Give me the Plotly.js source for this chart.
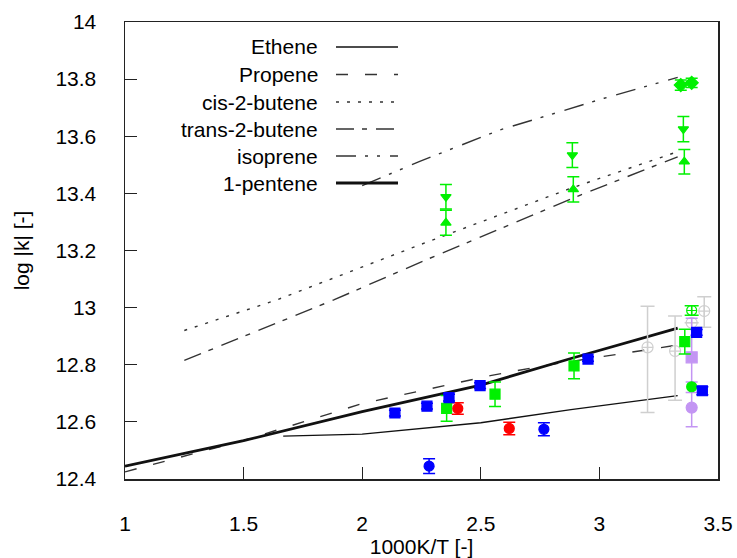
<!DOCTYPE html>
<html>
<head>
<meta charset="utf-8">
<script src="https://cdn.plot.ly/plotly-3.0.1.min.js"></script>
<style>html,body{margin:0;padding:0;background:#fff;}#chart{width:737px;height:558px;}</style>
</head>
<body>
<div id="chart"></div>
<script>
// ---- model curves ----
const etheneX = [1.667, 2.0, 2.5, 2.88, 3.33];
const etheneY = [12.550, 12.557, 12.597, 12.643, 12.692];
const propeneX = [1.0, 1.5, 2.0, 2.54, 2.79, 3.33];
const propeneY = [12.425, 12.535, 12.664, 12.762, 12.800, 12.869];
const cisX = [1.25, 1.64, 2.24, 2.88, 3.33];
const cisY = [12.920, 13.027, 13.219, 13.418, 13.546];
const transX = [1.25, 1.88, 2.26, 2.92, 3.33];
const transY = [12.815, 13.027, 13.164, 13.394, 13.528];
const isopreneX = [2.0, 2.24, 2.58, 3.02, 3.33];
const isopreneY = [13.427, 13.511, 13.622, 13.733, 13.806];
const penteneX = [1.0, 1.5, 2.0, 2.5, 2.88, 3.33];
const penteneY = [12.445, 12.534, 12.636, 12.729, 12.822, 12.928];

// ---- experimental points ----
const blueSqX = [2.138, 2.273, 2.366, 2.497, 2.952, 3.41, 3.434];
const blueSqY = [12.631, 12.655, 12.685, 12.727, 12.820, 12.913, 12.709];
const blueSqErr = [0.010, 0.010, 0.012, 0.010, 0.008, 0.010, 0.014];
const blueCircX = [2.282, 2.766];
const blueCircY = [12.445, 12.574];
const blueCircErr = [0.026, 0.023];
const redCircX = [2.403, 2.62];
const redCircY = [12.647, 12.577];
const redCircErr = [0.020, 0.022];
const greenSqX = [2.356, 2.56, 2.893, 3.36];
const greenSqY = [12.647, 12.697, 12.796, 12.881];
const greenSqErr = [0.045, 0.043, 0.045, 0.043];
const greenCircX = [3.389];
const greenCircY = [12.723];
const greenCrossX = [3.389];
const greenCrossY = [12.990];
const greenCrossErr = [0.017];
const greenDownX = [2.353, 2.886, 3.354];
const greenDownY = [13.388, 13.534, 13.625];
const greenDownErr = [0.043, 0.043, 0.044];
const greenUpX = [2.353, 2.89, 3.358];
const greenUpY = [13.297, 13.414, 13.511];
const greenUpErr = [0.044, 0.044, 0.043];
const greenDiaX = [3.343, 3.389];
const greenDiaY = [13.779, 13.787];
const greenDiaErr = [0.018, 0.016];
const grayX = [3.203, 3.319, 3.389, 3.442];
const grayY = [12.861, 12.848, 12.947, 12.988];
const grayErrUp = [0.144, 0.123, 0.0, 0.050];
const grayErrDown = [0.228, 0.172, 0.0, 0.057];
const lavX = [3.389, 3.389];
const lavY = [12.826, 12.650];
const lavErrUp = [0.137, 0.090];
const lavErrDown = [0.123, 0.067];

// ---- ticks / labels ----
const xTicks = [1, 1.5, 2, 2.5, 3, 3.5];
const xTickText = ['1', '1.5', '2', '2.5', '3', '3.5'];
const yTicks = [12.4, 12.6, 12.8, 13, 13.2, 13.4, 13.6, 13.8, 14];
const yTickText = ['12.4', '12.6', '12.8', '13', '13.2', '13.4', '13.6', '13.8', '14'];
const legendNames = ['Ethene', 'Propene', 'cis-2-butene', 'trans-2-butene', 'isoprene', '1-pentene'];

const FONT = 'Liberation Sans, Arial, sans-serif';
const FS = 21;
const styles = [
  {color: '#111', width: 1.4, dash: 'solid'},
  {color: '#333', width: 1.4, dash: '12px,17px'},
  {color: '#333', width: 1.4, dash: '3px,8px'},
  {color: '#333', width: 1.4, dash: '18px,8px,5px,9px'},
  {color: '#333', width: 1.4, dash: '20px,9px,3px,9px,3px,10px'},
  {color: '#111', width: 2.8, dash: 'solid'}
];
const curves = [[etheneX, etheneY], [propeneX, propeneY], [cisX, cisY], [transX, transY], [isopreneX, isopreneY], [penteneX, penteneY]];

const traces = [];
curves.forEach((c, i) => {
  traces.push({x: c[0], y: c[1], mode: 'lines', name: legendNames[i], line: styles[i], showlegend: false, hoverinfo: 'skip'});
});

function pts(x, y, err, color, symbol, size, w, errMinus) {
  const t = {x: x, y: y, mode: 'markers', showlegend: false,
    marker: {color: color, symbol: symbol, size: size, line: {color: color, width: 1.2}}};
  if (err) {
    t.error_y = {type: 'data', array: err, visible: true, color: color, thickness: 1.5, width: w || 6};
    if (errMinus) { t.error_y.symmetric = false; t.error_y.arrayminus = errMinus; }
  }
  return t;
}
const GREEN = '#00f000';
traces.push(pts(grayX, grayY, grayErrUp, '#cfcfcf', 'circle-cross-open', 11, 7, grayErrDown));
traces.push(pts(lavX, lavY, lavErrUp, '#c395f3', ['square', 'circle'], 11, 6, lavErrDown));
traces.push(pts(greenSqX, greenSqY, greenSqErr, GREEN, 'square', 10, 6));
traces.push(pts(greenCircX, greenCircY, null, GREEN, 'circle', 10));
traces.push(pts(greenCrossX, greenCrossY, greenCrossErr, GREEN, 'circle-cross-open', 10, 7));
traces.push(pts(greenDownX, greenDownY, greenDownErr, GREEN, 'triangle-down', 9, 6));
traces.push(pts(greenUpX, greenUpY, greenUpErr, GREEN, 'triangle-up', 9, 6));
traces.push(pts(greenDiaX, greenDiaY, greenDiaErr, GREEN, 'diamond', 10, 6));
traces.push(pts(redCircX, redCircY, redCircErr, '#ff0000', 'circle', 10, 6));
traces.push(pts(blueSqX, blueSqY, blueSqErr, '#0000ff', 'square', 10, 6));
traces.push(pts(blueCircX, blueCircY, blueCircErr, '#0000ff', 'circle', 10, 6));

// ---- custom legend (text left of sample) ----
const L = 125, R = 718, T = 22, B = 479;
const px2x = p => (p - L) / (R - L);
const py2y = p => (B - p) / (B - T);
const legendRows = [47, 74.5, 102, 129, 156, 183];
const annotations = [];
const shapes = [];
legendNames.forEach((n, i) => {
  annotations.push({xref: 'paper', yref: 'paper', x: px2x(320), y: py2y(legendRows[i]), xanchor: 'right', yanchor: 'middle',
    text: n, showarrow: false, font: {family: FONT, size: FS, color: '#000'}});
  shapes.push({type: 'line', xref: 'paper', yref: 'paper', x0: px2x(336), x1: px2x(398), y0: py2y(legendRows[i]), y1: py2y(legendRows[i]),
    line: {color: styles[i].color, width: styles[i].width, dash: styles[i].dash}});
});

const layout = {
  width: 737, height: 558,
  margin: {l: L, r: 737 - R, t: T, b: 558 - B},
  paper_bgcolor: '#fff', plot_bgcolor: '#fff',
  font: {family: FONT, size: FS, color: '#000'},
  showlegend: false,
  xaxis: {range: [1, 3.5], tickvals: xTicks, ticktext: xTickText, ticks: 'inside', ticklen: 12, tickwidth: 1.2, tickcolor: '#222',
    showline: true, mirror: true, linecolor: '#222', linewidth: 1.5, showgrid: false, zeroline: false,
    ticklabelstandoff: 25, tickfont: {family: FONT, size: FS, color: '#000'},
    title: {text: '1000K/T [-]', font: {family: FONT, size: FS, color: '#000'}, standoff: 10}},
  yaxis: {range: [12.4, 14], tickvals: yTicks, ticktext: yTickText, ticks: 'inside', ticklen: 12, tickwidth: 1.2, tickcolor: '#222',
    showline: true, mirror: true, linecolor: '#222', linewidth: 1.5, showgrid: false, zeroline: false,
    ticklabelstandoff: 23, tickfont: {family: FONT, size: FS, color: '#000'},
    title: {text: 'log |k| [-]', font: {family: FONT, size: FS, color: '#000'}, standoff: 20}},
  annotations: annotations,
  shapes: shapes
};
Plotly.newPlot('chart', traces, layout, {staticPlot: true, displayModeBar: false});
</script>
</body>
</html>
